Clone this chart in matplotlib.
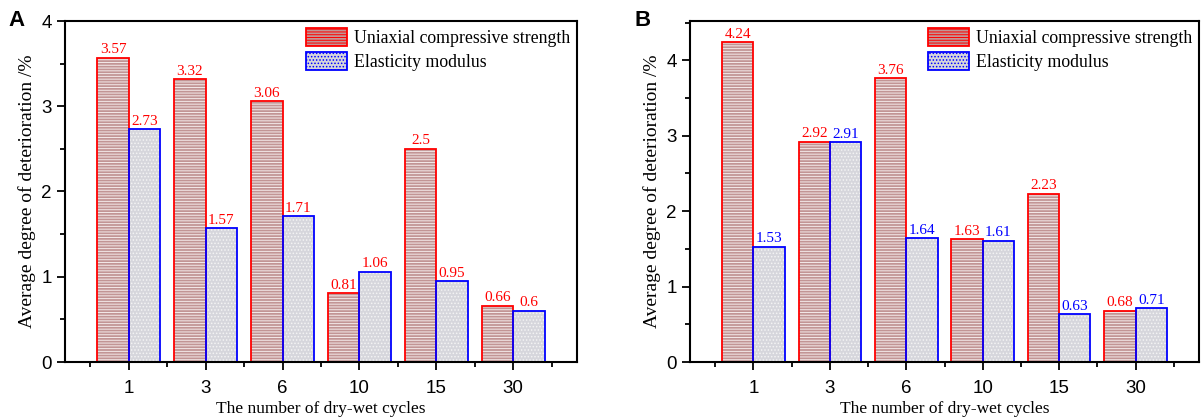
import numpy as np
import matplotlib.pyplot as plt
from matplotlib.patches import Patch
from matplotlib.ticker import MultipleLocator

cycles = ['1', '3', '6', '10', '15', '30']
ucs_a = [3.57, 3.32, 3.06, 0.81, 2.5, 0.66]
mod_a = [2.73, 1.57, 1.71, 1.06, 0.95, 0.6]
ucs_b = [4.24, 2.92, 3.76, 1.63, 2.23, 0.68]
mod_b = [1.53, 2.91, 1.64, 1.61, 0.63, 0.71]

serif = 'Liberation Serif'
sans = 'Liberation Sans'
plt.rcParams['hatch.linewidth'] = 0.7

RED_FACE = '#c29595'
BLUE_FACE = '#d6d6dc'

fig = plt.figure(figsize=(12.03, 4.19), dpi=100)
ax_a = fig.add_axes([65/1203, 57/419, 512/1203, 341/419])
ax_b = fig.add_axes([690/1203, 57/419, 509/1203, 341/419])


def draw(ax, ucs, mod, ymax, lab_cols, letter):
    x = np.arange(len(cycles))
    w = 0.41
    # textured fill, then a clean coloured outline on top
    ax.bar(x - w/2, ucs, w, color=RED_FACE, hatch='------', edgecolor='#f4eaea', linewidth=0)
    ax.bar(x + w/2, mod, w, color=BLUE_FACE, hatch='.....', edgecolor='#f4f4f4', linewidth=0)
    ax.bar(x - w/2, ucs, w, fill=False, edgecolor='red', linewidth=1.3)
    ax.bar(x + w/2, mod, w, fill=False, edgecolor='blue', linewidth=1.3)

    for xi, v in zip(x, ucs):
        ax.annotate(f'{v:g}', (xi - w/2, v), xytext=(0, 1), textcoords='offset points',
                    ha='center', va='bottom', color=lab_cols[0], fontsize=11, family=serif)
    for xi, v in zip(x, mod):
        ax.annotate(f'{v:g}', (xi + w/2, v), xytext=(0, 1), textcoords='offset points',
                    ha='center', va='bottom', color=lab_cols[1], fontsize=11, family=serif)

    ax.set_xlim(-0.83, 5.83)
    ax.set_ylim(0, ymax)
    ax.set_xticks(x)
    ax.set_xticklabels(cycles)
    ax.set_xticks(np.arange(-0.5, 6, 1), minor=True)
    ax.yaxis.set_major_locator(MultipleLocator(1))
    ax.yaxis.set_minor_locator(MultipleLocator(0.5))
    ax.tick_params(which='major', direction='out', length=6, width=1.3, labelsize=13.5)
    ax.tick_params(axis='x', which='major', pad=7)
    ax.tick_params(which='minor', direction='out', length=3.5, width=1.3)
    for lbl in ax.get_xticklabels() + ax.get_yticklabels():
        lbl.set_family(sans)
    for s in ax.spines.values():
        s.set_linewidth(1.5)

    ax.set_xlabel('The number of dry-wet cycles', family=serif, fontsize=12.5, labelpad=3)
    ax.set_ylabel('Average degree of deterioration /%', family=serif, fontsize=14, labelpad=4)

    handles = [
        Patch(facecolor=RED_FACE, hatch='------', edgecolor='red', linewidth=1.3),
        Patch(facecolor=BLUE_FACE, hatch='.....', edgecolor='blue', linewidth=1.3),
    ]
    ax.legend(handles, ['Uniaxial compressive strength', 'Elasticity modulus'],
              loc='upper right', frameon=False, prop={'family': serif, 'size': 12.8},
              handlelength=2.3, handleheight=1.2, handletextpad=0.4, labelspacing=0.25,
              borderaxespad=0.1, borderpad=0.3)
    ax.text(-0.11, 1.0, letter, transform=ax.transAxes, fontsize=16, fontweight='bold',
            family=sans, ha='left', va='center')


draw(ax_a, ucs_a, mod_a, 4, ('red', 'red'), 'A')
draw(ax_b, ucs_b, mod_b, 4.52, ('red', 'blue'), 'B')

fig.savefig('out.png', dpi=100)
